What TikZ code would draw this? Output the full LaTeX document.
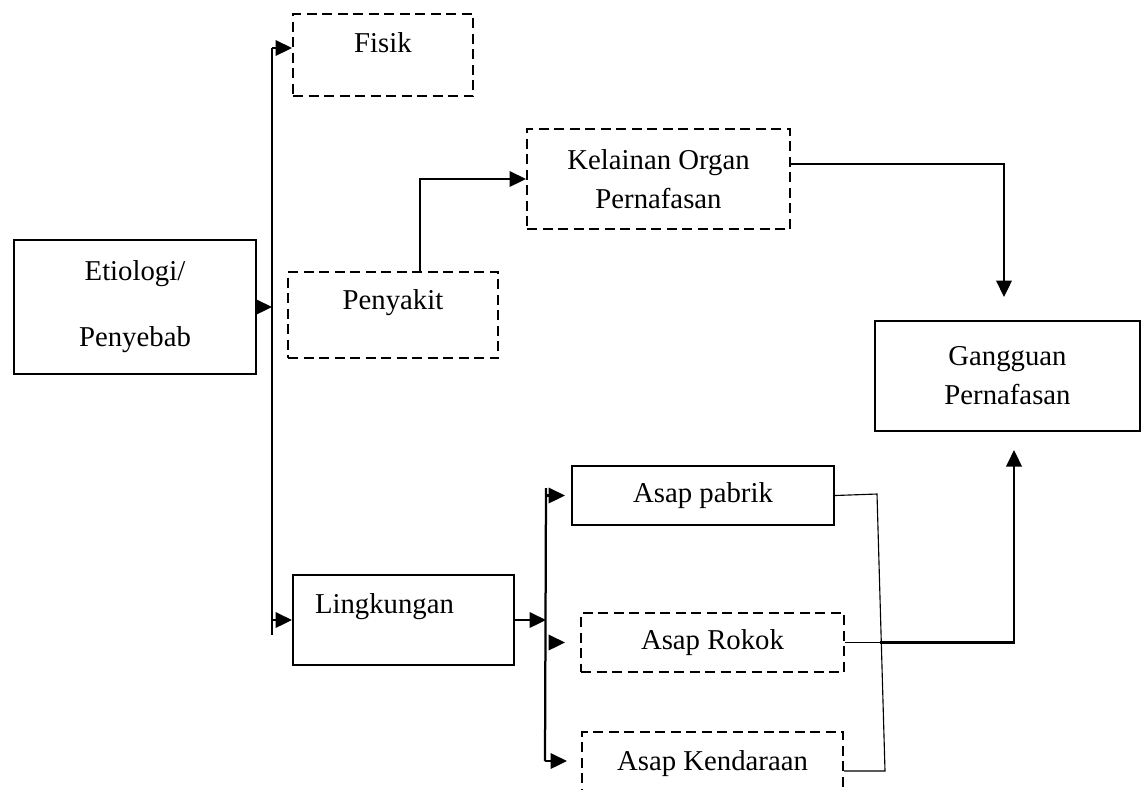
\documentclass[tikz,border=0pt]{standalone}
\usepackage{fontspec}
\setmainfont{Liberation Serif}
\usetikzlibrary{arrows.meta}

\begin{document}
\begin{tikzpicture}[x=0.4pt, y=-0.4pt, font=\fontsize{11.5pt}{15.6pt}\selectfont]
\tikzstyle{solidbox} = [draw, line width=0.8pt, anchor=north west, inner sep=0pt, align=center]
\tikzstyle{dashbox} = [solidbox, dash pattern=on 4pt off 2.2pt]
\tikzstyle{arr} = [line width=0.9pt, -{Triangle[length=6.6pt,width=6.2pt]}]
\tikzstyle{link} = [line width=0.45pt]
\clip (0,0) rectangle (1145,789);

\node[solidbox, minimum width=96.8pt, minimum height=53.6pt, font=\fontsize{11.5pt}{26.4pt}\selectfont] (etio) at (13,239) {Etiologi/\\Penyebab};
\node[dashbox, minimum width=72pt, text height=15.2pt, text depth=17.6pt] (fisik) at (292,13) {Fisik};
\node[dashbox, minimum width=84pt, text height=14.8pt, text depth=19.6pt] (peny) at (287,271) {Penyakit};
\node[dashbox, minimum width=105.2pt, minimum height=40pt] (kel) at (526,128) {Kelainan Organ\\Pernafasan};
\node[solidbox, minimum width=106pt, minimum height=44pt] (gang) at (874,320) {Gangguan\\Pernafasan};
\node[solidbox, text width=70.8pt, inner xsep=8.8pt, align=left, text height=15.2pt, text depth=20.8pt] (lingk) at (292,574) {Lingkungan};
% sumber asap
\node[solidbox, minimum width=104.8pt, minimum height=23.6pt] (pabrik) at (571,465) {Asap pabrik};
\node[dashbox, minimum width=105.2pt, minimum height=23.6pt] (rokok) at (580,612) {Asap Rokok};
\node[dashbox, minimum width=104.4pt, text height=15.2pt, text depth=20pt] (kend) at (581,731) {Asap Kendaraan};

\coordinate (trk1) at (272,48);
\coordinate (trk2) at (272,635);
\coordinate (trkb1) at (546,488);
\coordinate (trkb2) at (545,761);
\coordinate (col1) at (877,494);
\coordinate (col2) at (885,771);
\coordinate (jn) at (880,637);
\coordinate (up) at (1014,450);
\coordinate (dn) at (1004,297);

\draw[line width=0.9pt] (trk1) -- (trk2);
\draw[arr] (etio.east) -- (etio.east -| trk1);
\draw[arr] (trk1) -- (trk1 -| fisik.west);
\draw[arr] (trk2 |- lingk.west) -- (lingk.west);
\draw[arr] ([xshift=10.8pt]peny.north) |- (kel.west);
\draw[arr] ([yshift=6pt]kel.east) -| (dn);
\draw[arr] (lingk.east) -- (lingk.east -| trkb1);
\draw[line width=0.9pt] (trkb1) -- (trkb2);
\draw[arr, shorten >=2.4pt] (trkb1 |- pabrik.west) -- (pabrik.west);
\draw[arr, shorten <=1.6pt, shorten >=6pt] (trkb1 |- rokok.west) -- (rokok.west);
\draw[arr, shorten >=5.6pt] (trkb2) -- (trkb2 -| kend.west);
\draw[link] (pabrik.east) -- (col1) -- (col2) -- (col2 -| kend.east);
\draw[link] (rokok.east) -- (rokok.east -| jn);
\draw[arr] (rokok.east -| jn) -| (up);
\end{tikzpicture}
\end{document}
